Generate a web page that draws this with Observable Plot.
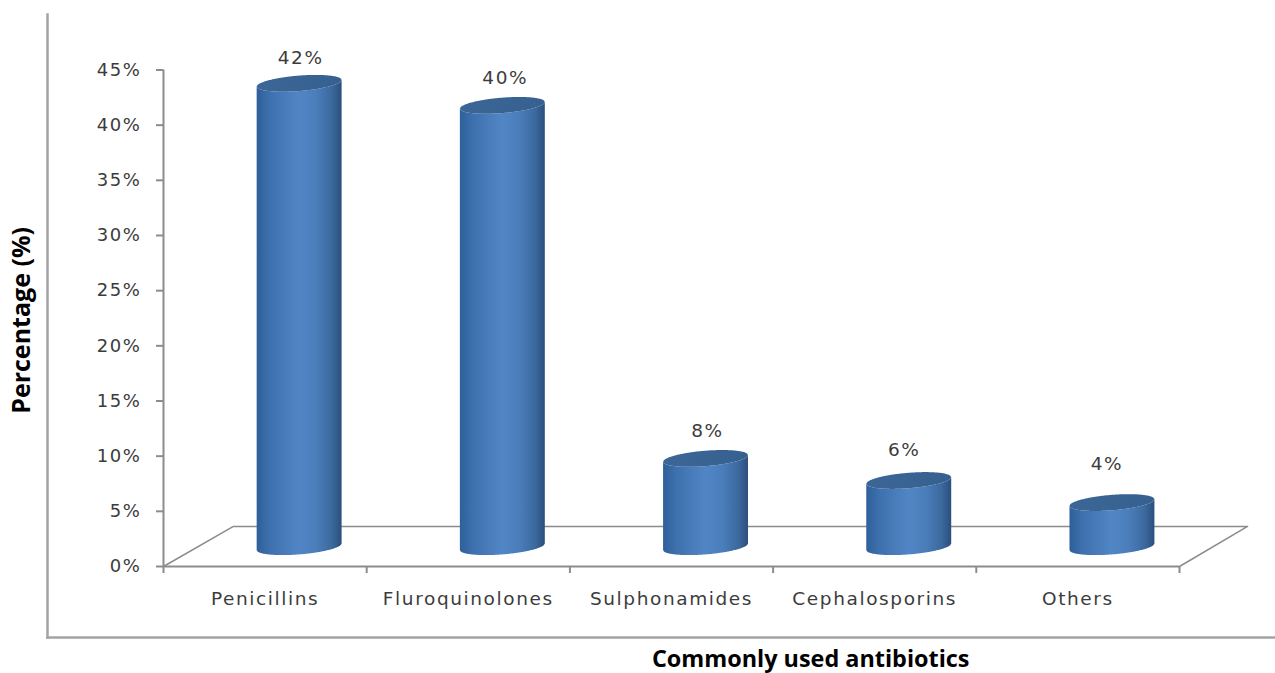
<!DOCTYPE html>
<html>
<head>
<meta charset="utf-8">
<script src="https://cdn.jsdelivr.net/npm/d3@7"></script>
<script src="https://cdn.jsdelivr.net/npm/@observablehq/plot@0.6"></script>
<style>
  html, body { margin: 0; padding: 0; background: #fff; overflow: hidden; }
  svg { display: block; }
</style>
</head>
<body>
<div id="chart"></div>
<script>
// Commonly used antibiotics, share of prescriptions (%)
const categories = ["Penicillins", "Fluroquinolones", "Sulphonamides", "Cephalosporins", "Others"];
const percentages = [42, 40, 8, 6, 4];
const yTicks = [0, 5, 10, 15, 20, 25, 30, 35, 40, 45];
const axisTitles = ["Percentage (%)", "Commonly used antibiotics"];

// Pseudo-3D layout, in scale units: x counts category bands, y counts percent
const depthX = 0.344, depthY = 3.63;       // floor depth
const barOffset = 0.67, barHalfWidth = 0.209;
const baseY = 1.75, ellipseY = 0.7, ellipseTilt = 0.3;
const labelLift = [2.3, 2.5, 2.5, 2.8, 3.5];
const labelShift = [0.005, 0.012, 0.007, -0.025, -0.027];

const GRAY = "#8c8c8c";
const TEXT = "#3c3c3c";
const steps = d3.range(-50, 51).map((k) => k / 50);

// Outline of a tilted ellipse, as upper and lower arcs around a centre height
const arcRows = (index, level) =>
  steps.map((t) => {
    const half = ellipseY * Math.sqrt(1 - t * t);
    const tilt = ellipseTilt * t;
    return {
      category: categories[index],
      x: index + barOffset + t * barHalfWidth,
      upper: level + tilt + half,
      lower: level + tilt - half
    };
  });

const bodies = categories.flatMap((c, i) => {
  const top = arcRows(i, percentages[i] + baseY);
  const bottom = arcRows(i, baseY);
  return top.map((r, k) => ({category: c, x: r.x, y1: bottom[k].lower, y2: r.lower}));
});
const caps = categories.flatMap((c, i) => arcRows(i, percentages[i] + baseY));

const floor = [
  {x: 0, y: 0},
  {x: depthX, y: depthY},
  {x: 5 + depthX - 0.009, y: depthY},
  {x: 5, y: 0}
];

const labels = percentages.map((v, i) => ({
  text: `${v}%`,
  x: i + barOffset + labelShift[i],
  y: v + baseY + labelLift[i]
}));

const plot = Plot.plot({
  width: 1275,
  height: 673,
  marginLeft: 47,
  marginRight: 0,
  marginTop: 14,
  marginBottom: 36,
  style: {background: "#fff", fontFamily: "'DejaVu Sans', sans-serif", letterSpacing: "1.6px"},
  x: {type: "linear", domain: [0, 5], range: [163, 1179]},
  y: {type: "linear", domain: [0, 45], range: [566, 69.5]},
  marks: [
    // Gradients used by the cylinder bodies and their caps
    () => {
      const ns = "http://www.w3.org/2000/svg";
      const defs = document.createElementNS(ns, "defs");
      const add = (id, stops) => {
        const g = document.createElementNS(ns, "linearGradient");
        g.setAttribute("id", id);
        for (const [o, c] of stops) {
          const s = document.createElementNS(ns, "stop");
          s.setAttribute("offset", o);
          s.setAttribute("stop-color", c);
          g.appendChild(s);
        }
        defs.appendChild(g);
      };
      add("cylinder", [[0, "#2e5f9a"], [0.15, "#3d70ad"], [0.5, "#5186c6"], [0.7, "#4a7dba"], [0.88, "#3c6a9f"], [1, "#2b4f7e"]]);
      add("cap", [[0, "#3b6696"], [1, "#36608f"]]);
      return defs;
    },
    Plot.frame({anchor: "left", stroke: "#a3a3a3", strokeWidth: 2.5}),
    Plot.frame({anchor: "bottom", stroke: "#a3a3a3", strokeWidth: 2.5}),

    Plot.line(floor, {x: "x", y: "y", stroke: GRAY, strokeWidth: 1.5}),
    Plot.ruleX([0], {y1: 0, y2: 45, stroke: GRAY, strokeWidth: 2}),
    Plot.ruleY([0], {x1: 0, x2: 5, stroke: GRAY, strokeWidth: 2}),

    Plot.axisY({
      x: 0,
      ticks: yTicks,
      tickSize: 7,
      tickPadding: 15,
      tickFormat: (d) => `${d}%`,
      stroke: GRAY,
      strokeWidth: 2,
      fill: TEXT,
      fontSize: 18,
      label: null
    }),
    Plot.axisX({
      y: 0,
      ticks: d3.range(0, 6),
      tickSize: 7,
      tickFormat: () => "",
      stroke: GRAY,
      strokeWidth: 2,
      label: null
    }),
    Plot.axisX({
      y: 0,
      ticks: categories.map((_, i) => i + 0.5),
      tickSize: 0,
      tickPadding: 25,
      tickFormat: (d) => categories[d - 0.5],
      fill: TEXT,
      fontSize: 18.5,
      label: null
    }),

    Plot.areaY(bodies, {x: "x", y1: "y1", y2: "y2", z: "category", fill: "url(#cylinder)"}),
    Plot.areaY(caps, {x: "x", y1: "lower", y2: "upper", z: "category", fill: "url(#cap)"}),

    Plot.text(labels, {x: "x", y: "y", text: "text", fontSize: 18.5, fill: TEXT}),

    Plot.text([axisTitles[0]], {
      x: -0.694, y: 22.3, text: (d) => d, rotate: -90,
      fontFamily: "'Open Sans', sans-serif", fontWeight: 700, fontSize: 25, fill: "#000"
    }),
    Plot.text([axisTitles[1]], {
      x: 3.185, y: -8.43, text: (d) => d,
      fontFamily: "'Open Sans', sans-serif", fontWeight: 700, fontSize: 23.4, fill: "#000"
    })
  ]
});

// The wide tracking is for the tick and value labels, not the bold axis titles
d3.select(plot).selectAll("text")
  .filter(function () { return axisTitles.includes(this.textContent); })
  .style("letter-spacing", "0");

document.getElementById("chart").appendChild(plot);
</script>
</body>
</html>
